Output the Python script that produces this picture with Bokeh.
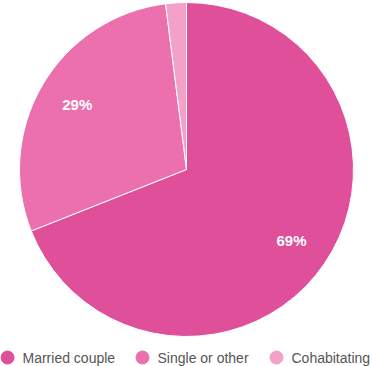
import math
from bokeh.plotting import figure
from bokeh.models import Range1d, ColumnDataSource
from bokeh.core.properties import value
from bokeh.embed import file_html
from bokeh.resources import INLINE

categories = ["Married couple", "Single or other", "Cohabitating"]
shares = [69, 29, 2]
colors = ["#e0509a", "#ec6fae", "#f2a1c9"]
show_label = [True, True, False]

W, H = 372, 366
cx, cy, R = 186, H - 169, 167

total = sum(shares)
starts, ends, lx, ly, labels = [], [], [], [], []
acc = 0.0
for s, show in zip(shares, show_label):
    a0 = math.pi / 2 - 2 * math.pi * acc / total
    a1 = math.pi / 2 - 2 * math.pi * (acc + s) / total
    starts.append(a0)
    ends.append(a1)
    mid = (a0 + a1) / 2
    if show:
        lx.append(cx + 0.76 * R * math.cos(mid))
        ly.append(cy + 0.76 * R * math.sin(mid))
        labels.append(f"{s}%")
    acc += s

p = figure(width=W, height=H, output_backend="svg", toolbar_location=None,
           x_range=Range1d(0, W), y_range=Range1d(0, H), min_border=0)
p.axis.visible = False
p.grid.visible = False
p.outline_line_color = None
p.background_fill_color = "white"

src = ColumnDataSource(dict(start=starts, end=ends, color=colors, cat=categories))
p.wedge(x=cx, y=cy, radius=R, start_angle="start", end_angle="end", direction="clock",
        fill_color="color", line_color="white", line_width=1, source=src)

p.text(x=lx, y=ly, text=labels, text_color="white", text_font=value("Liberation Sans"),
       text_font_style="bold", text_font_size="15px", text_align="center", text_baseline="middle")

# legend (layout positions)
leg_x = [7, 142, 276]
leg_y = [H - 357] * 3
p.scatter(x=leg_x, y=leg_y, size=13, fill_color=colors, line_color=colors, marker="circle")
p.text(x=[x + 15 for x in leg_x], y=leg_y, text=categories, text_color="#555555",
       text_font=value("Liberation Sans"), text_font_size="14px",
       text_align="left", text_baseline="middle")

open("out.html", "w").write(file_html(p, INLINE))
